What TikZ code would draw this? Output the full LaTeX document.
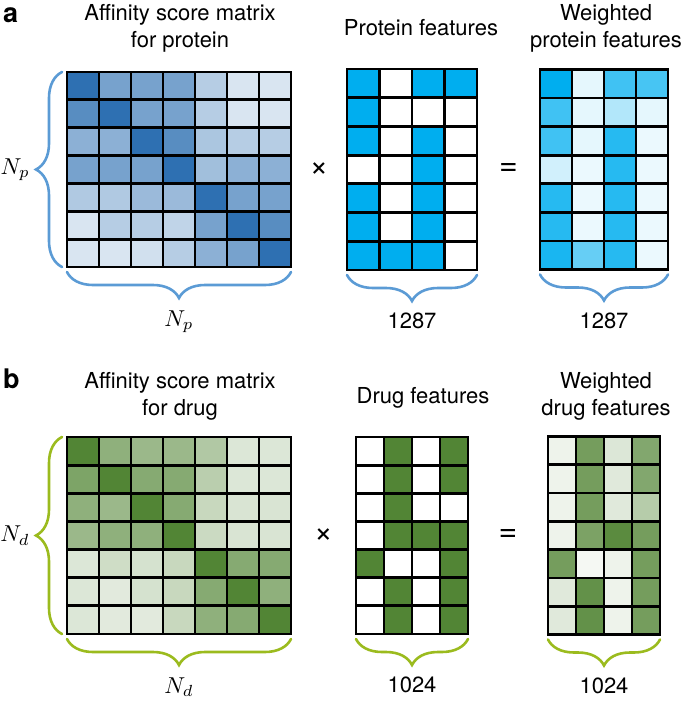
\documentclass[tikz,border=0pt]{standalone}
\usepackage{fontspec}
\newfontfamily\helv{TeX Gyre Heros}
\usepackage{tikz}
\usetikzlibrary{positioning, decorations.pathreplacing}
\definecolor{blueM}{RGB}{46,112,178}
\definecolor{cyanP}{RGB}{0,174,239}
\definecolor{greenM}{RGB}{82,133,53}
\definecolor{braceBlue}{RGB}{91,155,213}
\definecolor{braceGreen}{RGB}{155,187,30}
\tikzset{
    matbox/.style={rectangle, inner sep=0pt, outer sep=0pt},
    cell/.style={draw=black, line width=2.8pt},
    title/.style={font=\helv\fontsize{22}{27}\selectfont, align=center},
    op/.style={font=\helv\fontsize{32}{32}\selectfont},
    panel/.style={font=\helv\bfseries\fontsize{27}{27}\selectfont, inner sep=0pt, anchor=base west},
    dimlbl/.style={inner sep=0pt},
    numlbl/.style={inner sep=0pt, font=\helv\fontsize{22}{22}\selectfont},
    bracep/.style={draw=braceBlue, line width=2.6pt, line cap=round, decorate, decoration={brace, amplitude=26pt}},
    braced/.style={draw=braceGreen, line width=2.6pt, line cap=round, decorate, decoration={brace, amplitude=26pt}},
}
% grid of shaded cells inside a placed node
\newcommand{\cellgrid}[5]{%
  \foreach \row [count=\r] in {#5} {
    \foreach \v [count=\c] in \row {
      \draw[cell, fill=#2!\v!white, shift={(#1.north west)}]
        ({(\c-1)*#3},{(\r-1)*#4}) rectangle ++(#3,#4);
    }
  }
}

\begin{document}
\begin{tikzpicture}[x=1pt, y=-1pt]
  \useasboundingbox (0,0) rectangle (685,704);

  % panel a: protein
  \node[panel] (lblA) at (3,22) {a};
  \node[matbox, minimum width=224pt, minimum height=195pt] (affP) at (179,169.5) {};
  \node[matbox, minimum width=130pt, minimum height=201pt, right=56pt of affP] (featP) {};
  \node[matbox, minimum width=128pt, minimum height=200pt, right=63pt of featP] (wP) {};

  \cellgrid{affP}{blueM}{32}{27.857}{{100,65,65,65,35,18,18},{80,100,65,65,35,18,18},{55,55,100,80,40,35,35},{65,65,65,100,45,55,55},{38,38,48,48,100,65,65},{18,35,35,30,65,100,80},{18,18,22,35,55,65,100}}
  \cellgrid{featP}{cyanP}{32.5}{28.714}{{100,0,100,100},{100,0,0,0},{100,0,100,0},{0,0,100,0},{100,0,100,0},{100,0,100,0},{100,100,100,0}}
  \cellgrid{wP}{cyanP}{32}{28.571}{{100,10,75,72},{75,10,30,10},{75,10,85,8},{18,8,85,8},{85,8,85,8},{85,8,85,8},{90,60,85,8}}

  \node[title] (tAffP) at (180,28.5) {Affinity score matrix\\for protein};
  \node[title] (tFeatP) at (421,28) {Protein features};
  \node[title] (tWP) at (606,28.5) {Weighted\\protein features};

  \path (affP.east) -- (featP.west) node[midway, op] (timesP) {×};
  \path (featP.east) -- (wP.west) node[midway, op] (eqP) {=};

  \draw[bracep] ([xshift=-5pt]affP.south west) -- ([xshift=-5pt]affP.north west)
    node[midway, left=31pt, dimlbl] (npL) {\scalebox{2.3}{$N_p$}};
  \draw[bracep] ([yshift=-5pt]affP.south east) -- ([yshift=-5pt]affP.south west)
    node[midway, below=37pt, dimlbl] (npB) {\scalebox{2.3}{$N_p$}};
  \draw[bracep] ([yshift=-5pt]featP.south east) -- ([yshift=-5pt]featP.south west)
    node[midway, below=37pt, numlbl] (dimFP) {1287};
  \draw[bracep] ([yshift=-5pt]wP.south east) -- ([yshift=-5pt]wP.south west)
    node[midway, below=37pt, numlbl] (dimWP) {1287};

  % panel b: drug
  \node[panel] (lblB) at (3,388) {b};
  \node[matbox, minimum width=224pt, minimum height=197pt, below=170pt of affP] (affD) {};
  \node[matbox, minimum width=112pt, minimum height=197pt, right=65pt of affD] (featD) {};
  \node[matbox, minimum width=112pt, minimum height=198pt, right=80pt of featD] (wD) {};

  \cellgrid{affD}{greenM}{32}{28.143}{{100,65,58,58,45,20,20},{75,100,70,70,40,20,20},{65,58,100,70,32,22,22},{58,65,65,100,30,22,22},{20,28,24,32,100,70,70},{20,17,24,32,70,100,65},{20,17,17,32,65,70,100}}
  \cellgrid{featD}{greenM}{28}{28.143}{{0,100,0,100},{0,100,0,100},{0,100,0,0},{0,100,100,100},{100,0,0,100},{0,100,0,100},{0,100,0,100}}
  \cellgrid{wD}{greenM}{28}{28.286}{{10,80,20,72},{10,80,18,72},{10,80,18,42},{10,76,95,80},{80,6,10,80},{18,90,10,80},{18,90,10,80}}

  \node[title] (tAffD) at (180,396.5) {Affinity score matrix\\for drug};
  \node[title] (tFeatD) at (423,398) {Drug features};
  \node[title] (tWD) at (606,396.5) {Weighted\\drug features};

  \path (affD.east) -- (featD.west) node[midway, op] (timesD) {×};
  \path (featD.east) -- (wD.west) node[midway, op] (eqD) {=};

  \draw[braced] ([xshift=-5pt]affD.south west) -- ([xshift=-5pt]affD.north west)
    node[midway, left=31pt, dimlbl] (ndL) {\scalebox{2.3}{$N_d$}};
  \draw[braced] ([yshift=-5pt]affD.south east) -- ([yshift=-5pt]affD.south west)
    node[midway, below=37pt, dimlbl] (ndB) {\scalebox{2.3}{$N_d$}};
  \draw[braced] ([yshift=-5pt]featD.south east) -- ([yshift=-5pt]featD.south west)
    node[midway, below=37pt, numlbl] (dimFD) {1024};
  \draw[braced] ([yshift=-5pt]wD.south east) -- ([yshift=-5pt]wD.south west)
    node[midway, below=37pt, numlbl] (dimWD) {1024};
\end{tikzpicture}
\end{document}
